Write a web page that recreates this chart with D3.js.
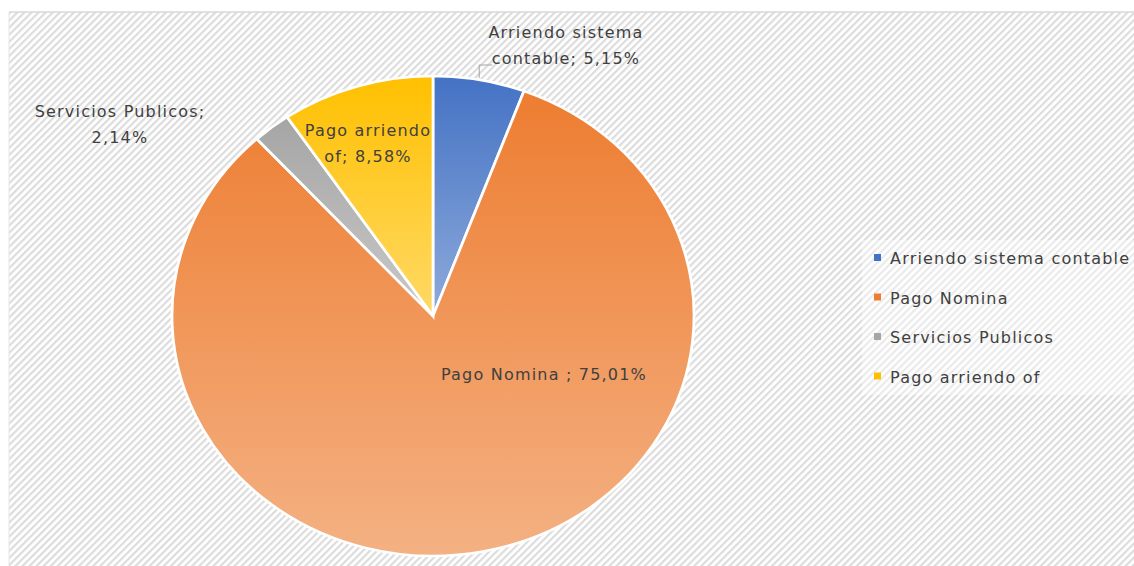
<!DOCTYPE html>
<html>
<head>
<meta charset="utf-8">
<script src="https://cdn.jsdelivr.net/npm/d3@7"></script>
<style>
	body { margin: 0; background: #fff; }
	svg { display: block; }
	text { font-family: "DejaVu Sans", sans-serif; fill: #404040; letter-spacing: 1.2px; }
</style>
</head>
<body>
<div id="chart"></div>
<script>
// data
const categories = ["Arriendo sistema contable", "Pago Nomina", "Servicios Publicos", "Pago arriendo of"];
const values = [5.15, 75.01, 2.14, 8.58];
const valueLabels = ["5,15%", "75,01%", "2,14%", "8,58%"];
const colorsTop = ["#4472c4", "#ed7d31", "#a5a5a5", "#ffc000"];
const colorsBottom = ["#8eaadb", "#f4b183", "#c9c9c9", "#ffd966"];

const width = 1134, height = 566;
const svg = d3.select("#chart").append("svg")
	.attr("width", width)
	.attr("height", height);

let defs = svg.append("defs");
let pattern = defs.append("pattern")
	.attr("id", "stripes")
	.attr("patternUnits", "userSpaceOnUse")
	.attr("width", 5)
	.attr("height", 5)
	.attr("patternTransform", "rotate(45)");
pattern.append("rect").attr("width", 5).attr("height", 5).attr("fill", "#fff");
pattern.append("rect").attr("width", 2.2).attr("height", 5).attr("fill", "#dcdcdc");

categories.forEach((c, i) => {
	let g = defs.append("linearGradient")
		.attr("id", "grad" + i)
		.attr("x1", 0).attr("y1", 0).attr("x2", 0).attr("y2", 1);
	g.append("stop").attr("offset", "0%").attr("stop-color", colorsTop[i]);
	g.append("stop").attr("offset", "100%").attr("stop-color", colorsBottom[i]);
});

// chart area
svg.append("rect")
	.attr("x", 9).attr("y", 12)
	.attr("width", width - 9).attr("height", height - 12)
	.attr("fill", "url(#stripes)");
svg.append("line")
	.attr("x1", 9).attr("x2", width).attr("y1", 12).attr("y2", 12)
	.attr("stroke", "#d9d9d9").attr("stroke-width", 1.5);
svg.append("line")
	.attr("x1", 9).attr("x2", 9).attr("y1", 12).attr("y2", height)
	.attr("stroke", "#e6e6e6").attr("stroke-width", 1);

// pie (slightly stretched horizontally, as in the original)
const cx = 433, cy = 316, r = 240, sx = 261 / 240;
const pie = d3.pie().sort(null).value(d => d)(values);
const arc = d3.arc().innerRadius(0).outerRadius(r);

let pieG = svg.append("g")
	.attr("transform", `translate(${cx},${cy}) scale(${sx},1)`);
pieG.selectAll("path")
	.data(pie).enter()
	.append("path")
	.attr("d", arc)
	.attr("fill", (d, i) => `url(#grad${i})`)
	.attr("stroke", "#fff")
	.attr("stroke-width", 2.5);

// data labels
const labelPos = [
	{x: 566, y: 38, lines: ["Arriendo sistema", "contable; " + valueLabels[0]]},
	{x: 544, y: 380, lines: ["Pago Nomina ; " + valueLabels[1]]},
	{x: 120, y: 117, lines: ["Servicios Publicos;", valueLabels[2]]},
	{x: 368, y: 136, lines: ["Pago arriendo", "of; " + valueLabels[3]]}
];
labelPos.forEach(l => {
	let t = svg.append("text")
		.attr("text-anchor", "middle")
		.attr("font-size", 16);
	l.lines.forEach((s, k) => {
		t.append("tspan").attr("x", l.x).attr("y", l.y + k * 26).text(s);
	});
});

// leader line for the first label
let a0 = (pie[0].startAngle + pie[0].endAngle) / 2;
let ex = cx + Math.sin(a0) * r * sx, ey = cy - Math.cos(a0) * r;
svg.append("polyline")
	.attr("points", `${ex},${ey - 2} ${ex},${65} ${ex + 13},${65}`)
	.attr("fill", "none")
	.attr("stroke", "#a6a6a6")
	.attr("stroke-width", 1);

// legend
svg.append("rect")
	.attr("x", 862).attr("y", 240)
	.attr("width", width - 862).attr("height", 155)
	.attr("fill", "#fff").attr("opacity", 0.4);
let legend = svg.append("g");
categories.forEach((c, i) => {
	let y = 258 + i * 39.5;
	legend.append("rect")
		.attr("x", 874).attr("y", y - 4)
		.attr("width", 7).attr("height", 7)
		.attr("fill", colorsTop[i]);
	legend.append("text")
		.attr("x", 890).attr("y", y + 6)
		.attr("font-size", 16)
		.text(c);
});
</script>
</body>
</html>
